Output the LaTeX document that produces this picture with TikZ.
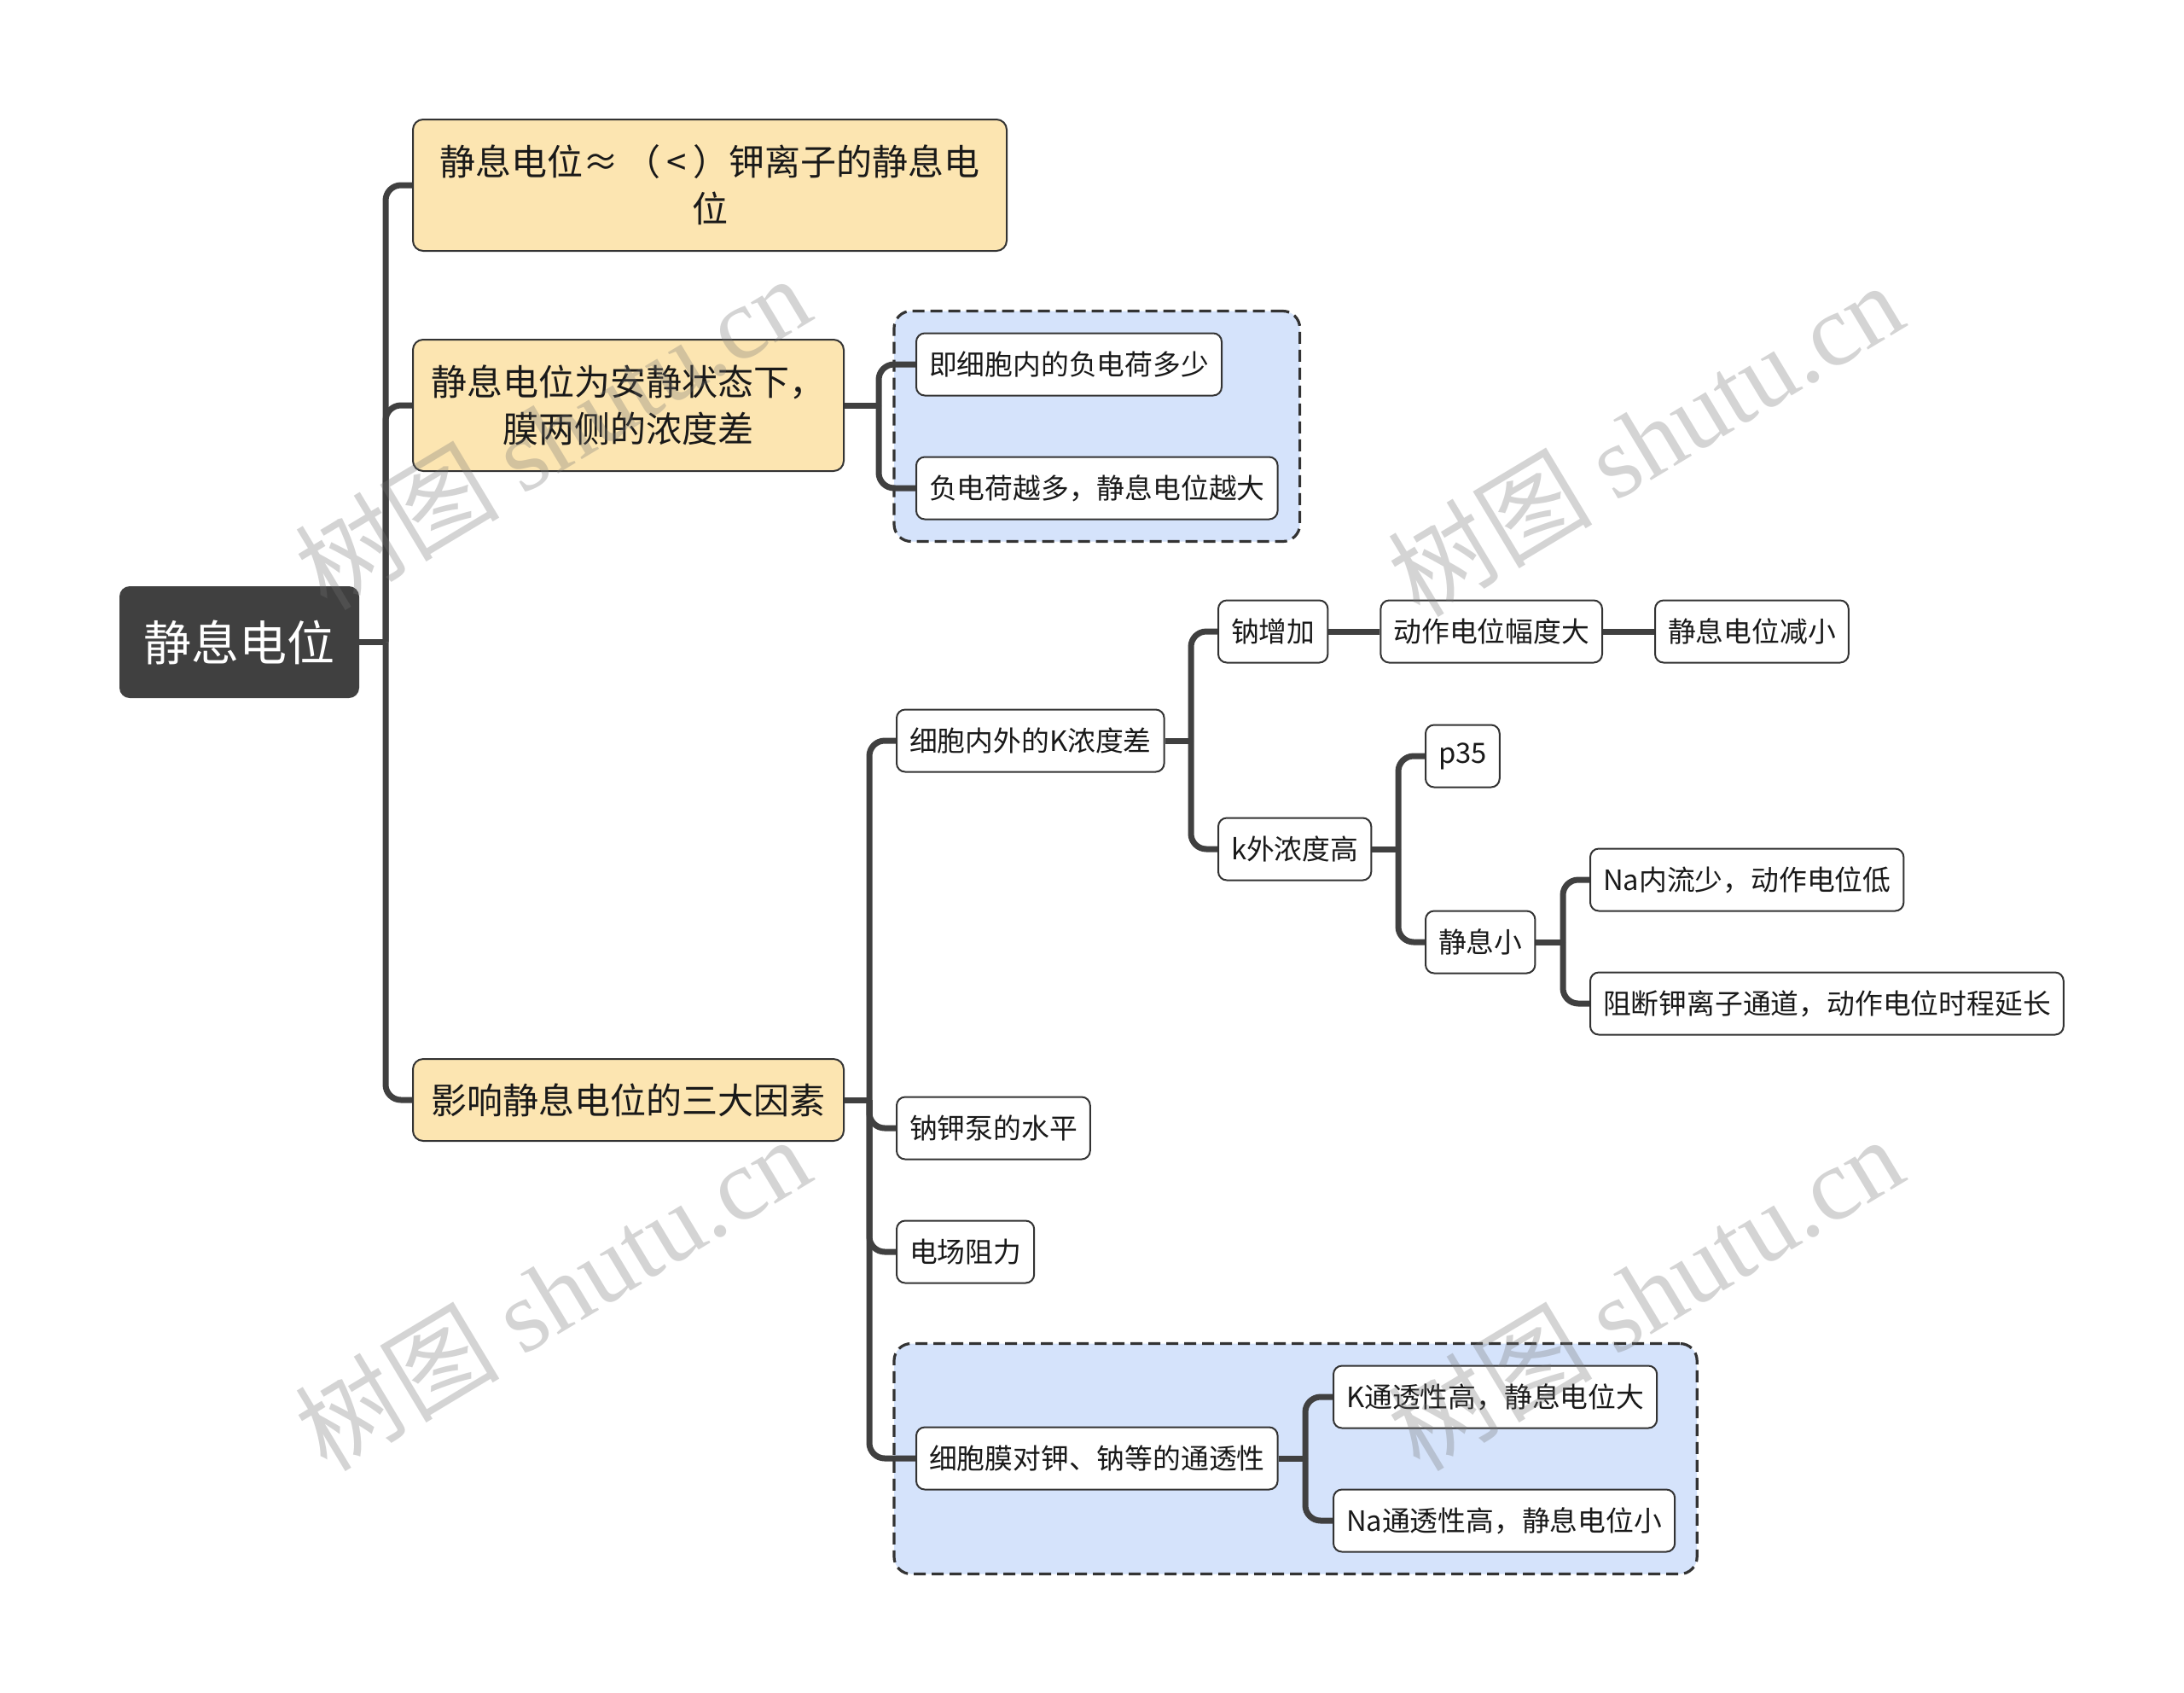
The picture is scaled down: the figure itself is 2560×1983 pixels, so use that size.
\documentclass[tikz,border=0pt]{standalone}
\usepackage{fontspec}
\setmainfont{Noto Sans CJK SC}
\newfontfamily\wmcjk{Noto Sans CJK SC}
\newfontfamily\wmlatin{Liberation Serif}
\usetikzlibrary{positioning,fit,backgrounds}
\definecolor{rootfill}{HTML}{404040}
\definecolor{topicfill}{HTML}{FCE5B1}
\definecolor{zonefill}{HTML}{D5E3FB}
\definecolor{linkgray}{HTML}{404040}
\definecolor{edgegray}{HTML}{333333}

\begin{document}
\begin{tikzpicture}[x=0.5pt,y=-0.5pt,
rootbox/.style={fill=rootfill,text=white,rounded corners=6pt,minimum width=140.5pt,minimum height=65.5pt,font=\fontsize{28pt}{34pt}\selectfont},
topic/.style={draw=edgegray,line width=1pt,fill=topicfill,rounded corners=6pt,align=center,anchor=west,minimum width=252.5pt,minimum height=48pt,text=black!90,font=\fontsize{21pt}{27.5pt}\selectfont},
leaf/.style={draw=edgegray,line width=1pt,fill=white,rounded corners=5pt,anchor=west,inner xsep=7.5pt,minimum height=36.5pt,text=black!90,font=\fontsize{16.4pt}{20pt}\selectfont},
zone/.style={draw=edgegray,line width=1.6pt,dash pattern=on 7pt off 3.5pt,fill=zonefill,rounded corners=10pt,inner sep=12.5pt},
link/.style={draw=linkgray,line width=3.5pt,rounded corners=9pt},
wmark/.style={rotate=31,text=black!55,text opacity=.3,font=\fontsize{60pt}{60pt}\selectfont}]
\useasboundingbox(0,0)rectangle(2560,1983);
% root and main topics
\node[rootbox](root) at (280.5,752.5){静息电位};
\node[topic,minimum width=348pt,minimum height=77pt](approx) at (483,217){静息电位≈\,（\,<\,）钾离子的静息电\\位};
\node[topic,minimum height=77pt](state) at (483,475){静息电位为安静状态下，\\膜两侧的浓度差};
\node[topic](factors) at (483,1289){影响静息电位的三大因素};
% subtopics
\node[leaf](charge) at (1073,427){即细胞内的负电荷多少};
\node[leaf](more) at (1073,572){负电荷越多，静息电位越大};
\node[leaf](kdiff) at (1050,868){细胞内外的K浓度差};
\node[leaf](pump) at (1050,1322){钠钾泵的水平};
\node[leaf](field) at (1050,1467){电场阻力};
\node[leaf](perm) at (1073,1709){细胞膜对钾、钠等的通透性};
\node[leaf](kperm) at (1562,1637){K通透性高，静息电位大};
\node[leaf](naperm) at (1562,1782){Na通透性高，静息电位小};
\node[leaf](naup) at (1427,740){钠增加};
\node[leaf,right=30pt of naup](amp){动作电位幅度大};
\node[leaf,right=30pt of amp](rdown){静息电位减小};
\node[leaf](kout) at (1427,995){k外浓度高};
\node[leaf](p35) at (1670,886){p35};
\node[leaf](rsmall) at (1670,1104){静息小};
\node[leaf](nain) at (1863,1031){Na内流少，动作电位低};
\node[leaf](block) at (1863,1176){阻断钾离子通道，动作电位时程延长};
\begin{scope}[on background layer]
\fill[white](0,0)rectangle(2560,1983);
\node[zone,fit=(charge)(more)](zoneA){};
\node[zone,fit=(perm)(kperm)(naperm)](zoneB){};
\end{scope}
% branch points
\coordinate[xshift=-15.5pt](t0) at (approx.west |- root.east);
\coordinate[xshift=-21.5pt](t1) at (charge.west |- state.east);
\coordinate[xshift=-15.5pt](t2) at (kdiff.west |- factors.east);
\coordinate[xshift=-15.5pt](t3) at (naup.west |- kdiff.east);
\coordinate[xshift=-15.5pt](t4) at (p35.west |- kout.east);
\coordinate[xshift=-15.5pt](t5) at (nain.west |- rsmall.east);
\coordinate[xshift=-16pt](t6) at (kperm.west |- perm.east);
% connectors
\draw[link](root.east)--(t0);
\draw[link](t0)|-(approx.west);\draw[link](t0)|-(state.west);\draw[link](t0)|-(factors.west);
\draw[link](state.east)--(t1);
\draw[link](t1)|-(charge.west);\draw[link](t1)|-(more.west);
\draw[link](factors.east)--(t2);
\draw[link](t2)|-(kdiff.west);\draw[link](t2)|-(pump.west);\draw[link](t2)|-(field.west);\draw[link](t2)|-(perm.west);
\draw[link](kdiff.east)--(t3);
\draw[link](t3)|-(naup.west);\draw[link](t3)|-(kout.west);
\draw[link](naup)--(amp);\draw[link](amp)--(rdown);
\draw[link](kout.east)--(t4);
\draw[link](t4)|-(p35.west);\draw[link](t4)|-(rsmall.west);
\draw[link](rsmall.east)--(t5);
\draw[link](t5)|-(nain.west);\draw[link](t5)|-(block.west);
\draw[link](perm.east)--(t6);
\draw[link](t6)|-(kperm.west);\draw[link](t6)|-(naperm.west);
% watermarks
\node[wmark](wm1) at (647,506){\wmcjk 树图 \wmlatin shutu.cn};
\node[wmark](wm2) at (1928,514){\wmcjk 树图 \wmlatin shutu.cn};
\node[wmark](wm3) at (647,1515){\wmcjk 树图 \wmlatin shutu.cn};
\node[wmark](wm4) at (1928,1515){\wmcjk 树图 \wmlatin shutu.cn};
\end{tikzpicture}
\end{document}
